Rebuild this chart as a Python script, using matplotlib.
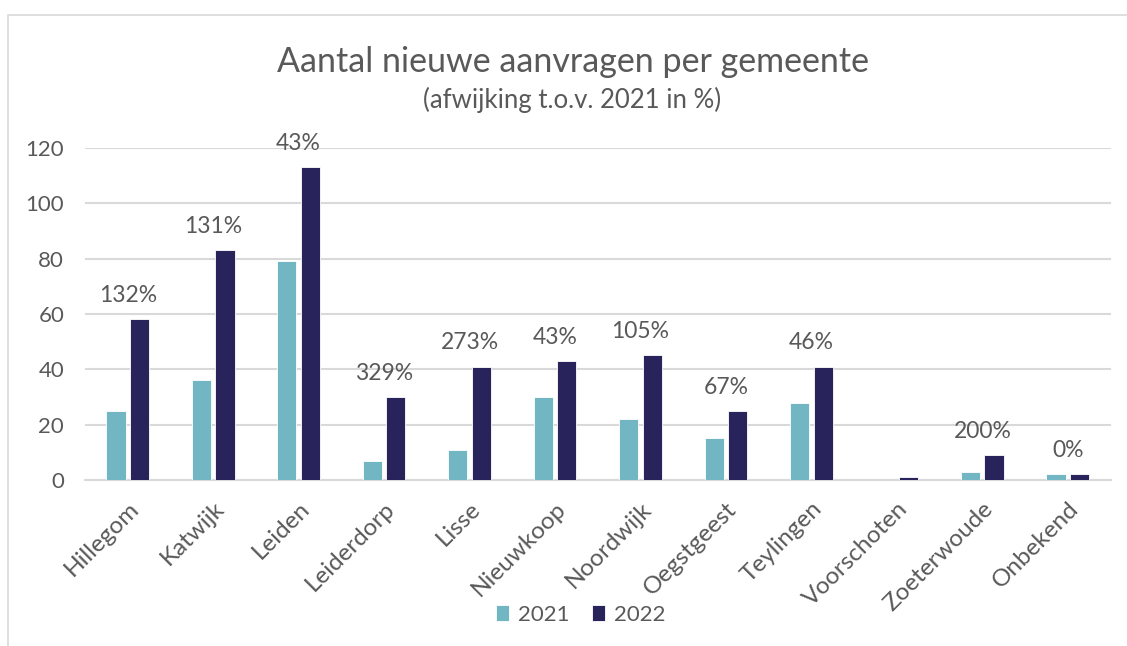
import matplotlib
matplotlib.use('Agg')

import matplotlib.pyplot as plt
from matplotlib.patches import Rectangle
import numpy as np

# Data
gemeenten = ["Hillegom", "Katwijk", "Leiden", "Leiderdorp", "Lisse", "Nieuwkoop",
             "Noordwijk", "Oegstgeest", "Teylingen", "Voorschoten", "Zoeterwoude", "Onbekend"]
aanvragen_2021 = [25, 36, 79, 7, 11, 30, 22, 15, 28, 0, 3, 2]
aanvragen_2022 = [58, 83, 113, 30, 41, 43, 45, 25, 41, 1, 9, 2]
afwijking = ["132%", "131%", "43%", "329%", "273%", "43%", "105%", "67%", "46%", "", "200%", "0%"]

COLORS = {
    "2021": "#72B5C3",
    "2022": "#28235A",
    "text": "#595959",
    "grid": "#D9D9D9",
}

plt.rcParams['font.family'] = ['Lato', 'DejaVu Sans']

fig = plt.figure(figsize=(11.27, 6.46), dpi=100)
ax = fig.add_axes([0.0754, 0.257, 0.91, 0.514])

# Chart frame (cropped border)
fig.patches.append(Rectangle((8 / 1127, -0.1), 1.2, 1 - 15 / 646 + 0.1, transform=fig.transFigure,
                             fill=False, edgecolor="#D9D9D9", linewidth=1.2))

x = np.arange(len(gemeenten))
width = 0.225
gap = 0.025

bars_21 = ax.bar(x - width / 2 - gap, aanvragen_2021, width, color=COLORS["2021"],
                 edgecolor="white", linewidth=0.6, label="2021", zorder=3)
bars_22 = ax.bar(x + width / 2 + gap, aanvragen_2022, width, color=COLORS["2022"],
                 edgecolor="white", linewidth=0.6, label="2022", zorder=3)

# Percentage labels above groups
for i, lbl in enumerate(afwijking):
    if lbl:
        top = max(aanvragen_2021[i], aanvragen_2022[i])
        ax.annotate(lbl, (x[i], top), xytext=(0, 17), textcoords="offset points",
                    ha="center", va="center", fontsize=16.5, color=COLORS["text"],
                    annotation_clip=False)

ax.set_xlim(-0.5, len(gemeenten) - 0.5)
ax.set_ylim(0, 120)
ax.set_yticks(range(0, 121, 20))
ax.yaxis.grid(True, color=COLORS["grid"], linewidth=1.5, zorder=0)
ax.set_axisbelow(True)

ax.set_xticks(x)
ax.set_xticklabels(gemeenten, rotation=45, ha="right", rotation_mode="anchor")
ax.tick_params(axis="both", length=0, colors=COLORS["text"])
ax.tick_params(axis="x", pad=13, labelsize=17.5)
ax.tick_params(axis="y", pad=15, labelsize=16)

for side in ["top", "right", "left"]:
    ax.spines[side].set_visible(False)
ax.spines["bottom"].set_color(COLORS["grid"])
ax.spines["bottom"].set_linewidth(1.5)

fig.text(0.508, 0.904, "Aantal nieuwe aanvragen per gemeente", ha="center", va="center",
         fontsize=24.5, color=COLORS["text"])
fig.text(0.508, 0.845, "(afwijking t.o.v. 2021 in %)", ha="center", va="center",
         fontsize=18.5, color=COLORS["text"])

fig.legend(handles=[bars_21, bars_22], labels=["2021", "2022"], loc="center",
           bbox_to_anchor=(0.515, 0.048), ncol=2, frameon=False, fontsize=16,
           labelcolor=COLORS["text"], handlelength=0.6, handleheight=0.7,
           handletextpad=0.4, columnspacing=1.0)

fig.savefig("out.png", dpi=100, facecolor="white")
